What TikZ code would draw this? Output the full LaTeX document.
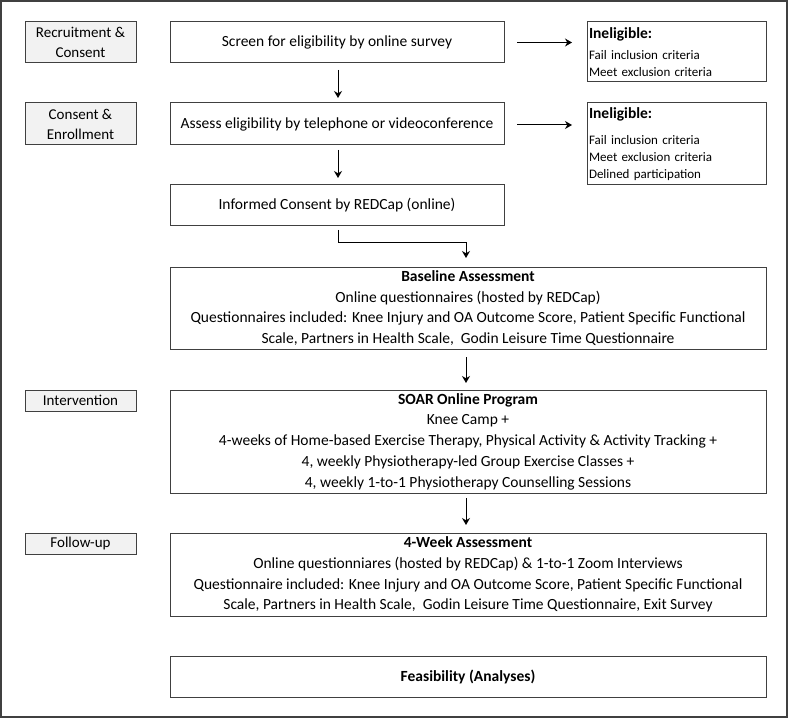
\documentclass[tikz,border=0pt]{standalone}
\usepackage{fontspec}
\setmainfont{Carlito}
\usetikzlibrary{arrows.meta,positioning,calc}
\definecolor{edge}{HTML}{404040}
\definecolor{labelfill}{HTML}{F2F2F2}
\begin{document}
\begin{tikzpicture}[x=1pt,y=-1pt,
  every node/.style={inner sep=0pt,outer sep=0pt},
  mainbox/.style={draw=edge,line width=1pt,rectangle,align=center,
    font=\fontsize{15.5}{20.7}\selectfont},
  sidelabel/.style={draw=edge,line width=1pt,fill=labelfill,rectangle,align=center,
    minimum width=111pt,font=\fontsize{15}{20}\selectfont},
  inelbox/.style={draw=edge,line width=1pt,rectangle,align=left,
    minimum width=179pt,text width=175pt,font=\fontsize{13}{17}\selectfont},
  flow/.style={line width=1pt,-{Stealth[length=7pt,width=8pt]}},
]
\useasboundingbox (0,0) rectangle (789,719);
\draw[edge,line width=1.5pt] (1,1) rectangle (787,717);

% left labels
\node[sidelabel,minimum height=41pt] (lrec) at (80.5,42.5) {Recruitment \&\\Consent};
\node[sidelabel,minimum height=42pt] (lcon) at (80.5,124) {Consent \&\\Enrollment};
\node[sidelabel,minimum height=21pt] (lint) at (80.5,400.5) {Intervention};
\node[sidelabel,minimum height=21pt] (lfol) at (80.5,543.5) {Follow-up};

% main flow
\node[mainbox,minimum width=334pt,minimum height=41pt] (screen) at (337,42.5) {Screen for eligibility by online survey};
\node[mainbox,minimum width=334pt,minimum height=42pt] (assess) at (337,124) {Assess eligibility by telephone or videoconference};
\node[mainbox,minimum width=334pt,minimum height=41pt] (consent) at (337,205.5) {Informed Consent by REDCap (online)};
\node[mainbox,minimum width=596pt,minimum height=82pt] (base) at (468,308) {\textbf{Baseline Assessment}\\
Online questionnaires (hosted by REDCap)\\
Questionnaires included: Knee Injury and OA Outcome Score, Patient Specific Functional\\
Scale, Partners in Health Scale, \ Godin Leisure Time Questionnaire};
\node[mainbox,minimum width=596pt,minimum height=103pt] (soar) at (468,441.5) {\textbf{SOAR Online Program}\\
Knee Camp +\\
4-weeks of Home-based Exercise Therapy, Physical Activity \& Activity Tracking +\\
4, weekly Physiotherapy-led Group Exercise Classes +\\
4, weekly 1-to-1 Physiotherapy Counselling Sessions};
\node[mainbox,minimum width=596pt,minimum height=83pt] (week) at (468,574.5) {\textbf{4-Week Assessment}\\
Online questionniares (hosted by REDCap) \& 1-to-1 Zoom Interviews\\
Questionnaire included: Knee Injury and OA Outcome Score, Patient Specific Functional\\
Scale, Partners in Health Scale, \ Godin Leisure Time Questionnaire, Exit Survey};
\node[mainbox,minimum width=596pt,minimum height=41pt] (feas) at (468,676.5) {\textbf{Feasibility (Analyses)}};

% ineligible boxes
\node[inelbox,minimum height=60pt] (inel1) at (676.5,52) {{\fontsize{15.5}{17}\selectfont\textbf{Ineligible:}}\\[4pt]
Fail inclusion criteria\\
Meet exclusion criteria};
\node[inelbox,minimum height=82pt] (inel2) at (676.5,144) {{\fontsize{15.5}{17}\selectfont\textbf{Ineligible:}}\\[9pt]
Fail inclusion criteria\\
Meet exclusion criteria\\
Delined participation};

% connectors
\draw[flow,shorten <=7pt,shorten >=5pt] ($(screen.south)+(1,0)$) -- ($(assess.north)+(1,0)$);
\draw[flow,shorten <=5pt,shorten >=7pt] ($(assess.south)+(1,0)$) -- ($(consent.north)+(1,0)$);
\draw[flow,shorten <=13pt,shorten >=15pt] (screen.east) -- (screen.east -| inel1.west);
\draw[flow,shorten <=13pt,shorten >=15pt] ($(assess.east)+(0,1)$) -- ($(assess.east -| inel2.west)+(0,1)$);
\draw[flow,shorten <=4pt,shorten >=9pt] ($(consent.south)+(1,0)$) -- ++(0,17) -| ($(base.north)+(-2,0)$);
\draw[flow,shorten <=8pt,shorten >=7pt] ($(base.south)+(-2,0)$) -- ($(soar.north)+(-2,0)$);
\draw[flow,shorten <=5pt,shorten >=8pt] ($(soar.south)+(-2,0)$) -- ($(week.north)+(-2,0)$);
\end{tikzpicture}
\end{document}
